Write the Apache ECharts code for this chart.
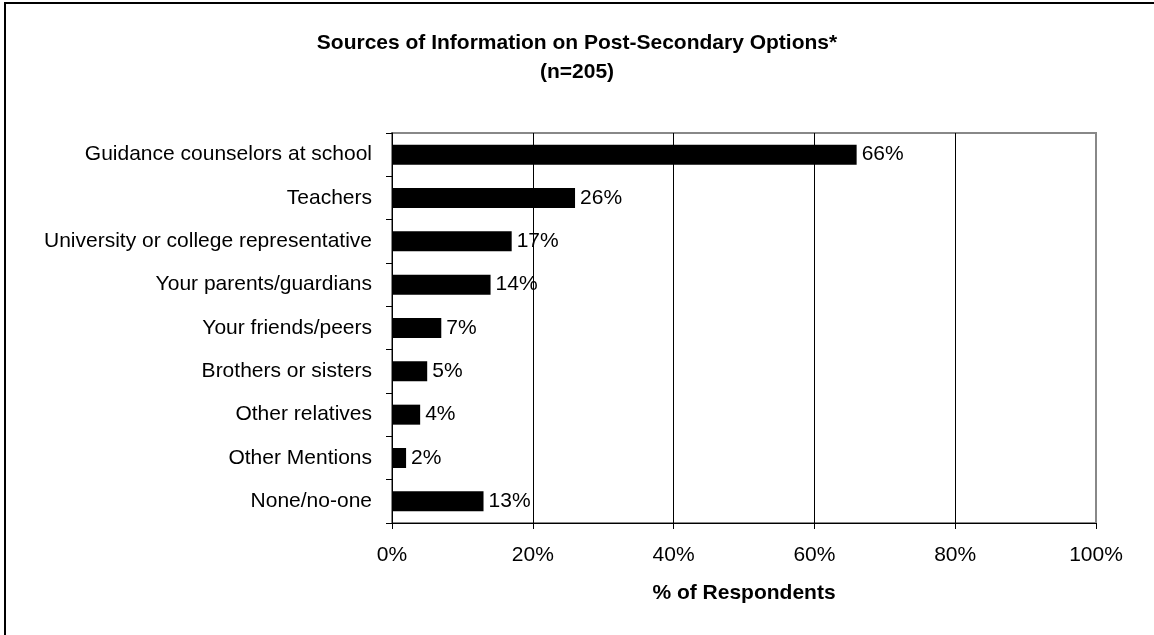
<!DOCTYPE html>
<html>
<head>
<meta charset="utf-8">
<script src="https://cdn.jsdelivr.net/npm/echarts@6/dist/echarts.min.js"></script>
<style>
  html, body { margin: 0; padding: 0; background: #fff; }
  #chart { width: 1154px; height: 635px; }
</style>
</head>
<body>
<div id="chart"></div>
<script>
// Sources people consulted, top to bottom as listed
const categories = [
  'Guidance counselors at school',
  'Teachers',
  'University or college representative',
  'Your parents/guardians',
  'Your friends/peers',
  'Brothers or sisters',
  'Other relatives',
  'Other Mentions',
  'None/no-one'
];
// Percent of respondents for each source
const percents = [66, 26, 17, 14, 7, 5, 4, 2, 13];
const xTicks = [0, 20, 40, 60, 80, 100];

const FONT = "'Liberation Sans', Arial, sans-serif";
const chart = echarts.init(document.getElementById('chart'), null, { renderer: 'canvas' });

chart.setOption({
  backgroundColor: '#fff',
  animation: false,
  title: {
    text: 'Sources of Information on Post-Secondary Options*\n(n=205)',
    left: 'center',
    top: 24,
    textStyle: { fontFamily: FONT, fontSize: 21, fontWeight: 'bold', color: '#000', lineHeight: 29 }
  },
  graphic: [{
    type: 'rect',
    shape: { x: 5, y: 3, width: 1200, height: 700 },
    style: { fill: 'none', stroke: '#000', lineWidth: 2 },
    silent: true
  }],
  grid: {
    left: 392, top: 133, width: 704, height: 390,
    show: true, borderColor: '#888', borderWidth: 2, backgroundColor: 'transparent'
  },
  xAxis: {
    type: 'value',
    min: xTicks[0], max: xTicks[xTicks.length - 1], interval: 20,
    name: '% of Respondents',
    nameLocation: 'middle',
    nameGap: 60,
    nameTextStyle: { fontFamily: FONT, fontSize: 21, fontWeight: 'bold', color: '#000' },
    axisLine: { show: true, lineStyle: { color: '#000', width: 1 } },
    axisTick: { show: true, length: 6, lineStyle: { color: '#000' } },
    axisLabel: { fontFamily: FONT, fontSize: 21, color: '#000', margin: 22, formatter: '{value}%' },
    splitLine: { show: true, lineStyle: { color: ['#000', '#000', '#000', '#000', '#000', '#888'], width: 1 } }
  },
  yAxis: {
    type: 'category',
    data: categories,
    inverse: true,
    axisLine: { show: true, lineStyle: { color: '#000', width: 1 } },
    axisTick: { show: true, length: 6, alignWithLabel: false, lineStyle: { color: '#000' } },
    axisLabel: { fontFamily: FONT, fontSize: 21, color: '#000', margin: 20 },
    splitLine: { show: false }
  },
  series: [{
    type: 'bar',
    data: percents,
    barWidth: 20,
    itemStyle: { color: '#000' },
    label: {
      show: true, position: 'right', distance: 5,
      fontFamily: FONT, fontSize: 21, color: '#000',
      formatter: p => p.value + '%'
    }
  }]
});
</script>
</body>
</html>
